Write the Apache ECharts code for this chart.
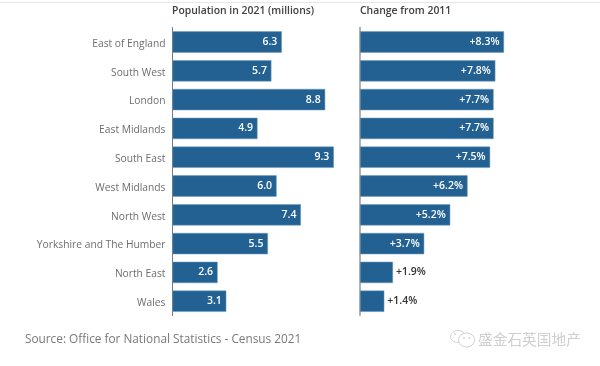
<!DOCTYPE html>
<html lang="en">
<head>
    <meta charset="UTF-8">
    <title>Population by region</title>
    <script src="https://cdn.jsdelivr.net/npm/echarts@6/dist/echarts.min.js"></script>
    <style>
        *{
            margin:0;
            padding:0;
            overflow: hidden;
        }
        #main{
            width:600px;
            height:366px;
            background-color:#fff;
        }
    </style>
</head>
<body>
    <div id="main"></div>
    <script>
        var regions=["East of England","South West","London","East Midlands","South East","West Midlands","North West","Yorkshire and The Humber","North East","Wales"]
        var population=[6.3,5.7,8.8,4.9,9.3,6.0,7.4,5.5,2.6,3.1]
        var change=[8.3,7.8,7.7,7.7,7.5,6.2,5.2,3.7,1.9,1.4]

        var font='"Open Sans"'
        var barColor='#236192'
        var barEdge='#6f9bbd'

        var myChart=echarts.init(document.getElementById('main'))

        //the two smallest changes do not fit inside the bar, label goes outside
        var changeData=change.map(function(v){
            var small=v<2
            return {
                value:v,
                label:{
                    position:small?'right':'insideRight',
                    color:small?'#333333':'#ffffff',
                    distance:small?3:4.5
                }
            }
        })

        var option={
            animation:false,
            title:[
                {text:"Population in 2021 (millions)",left:167,top:1.5,textStyle:{fontFamily:font,fontSize:10.4,fontWeight:600,color:'#414042'}},
                {text:"Change from 2011",left:355,top:1.5,textStyle:{fontFamily:font,fontSize:10.4,fontWeight:600,color:'#414042'}},
                {text:"Source: Office for National Statistics - Census 2021",left:20,top:329,textStyle:{fontFamily:font,fontSize:11.8,fontWeight:400,color:'#77787b'}},
                {text:"盛金石英国地产",left:473,top:327.5,textStyle:{fontFamily:'"Noto Sans CJK SC"',fontSize:14.7,fontWeight:400,color:'#cfcfcf'}}
            ],
            grid:[
                {left:172.5,top:27.6,width:173.5,height:288},
                {left:360,top:27.6,width:173.5,height:288}
            ],
            xAxis:[
                {gridIndex:0,type:'value',min:0,max:10,show:false},
                {gridIndex:1,type:'value',min:0,max:10,show:false}
            ],
            yAxis:[
                {
                    gridIndex:0,type:'category',data:regions,inverse:true,
                    axisLine:{lineStyle:{color:'#77787b',width:1}},
                    axisTick:{show:false},
                    //top aligned with a short line box drops the text about 2px under the bar centre
                    axisLabel:{fontFamily:font,fontSize:10.25,color:'#6d6e71',margin:7,verticalAlign:'top',lineHeight:3.6}
                },
                {
                    gridIndex:1,type:'category',data:regions,inverse:true,
                    axisLine:{lineStyle:{color:'#999999',width:1.5}},
                    axisTick:{show:false},
                    axisLabel:{show:false}
                }
            ],
            series:[
                {
                    type:'bar',xAxisIndex:0,yAxisIndex:0,data:population,barWidth:21.3,
                    itemStyle:{color:barColor,borderColor:barEdge,borderWidth:0.5},
                    label:{
                        show:true,position:'insideRight',distance:4.5,
                        fontFamily:font,fontSize:10.5,fontWeight:600,color:'#ffffff',
                        formatter:function(p){return p.value.toFixed(1)}
                    }
                },
                {
                    type:'bar',xAxisIndex:1,yAxisIndex:1,data:changeData,barWidth:21.3,
                    itemStyle:{color:barColor,borderColor:barEdge,borderWidth:0.5},
                    label:{
                        show:true,
                        fontFamily:font,fontSize:10.5,fontWeight:600,
                        formatter:function(p){return '+'+p.value.toFixed(1)+'%'}
                    }
                }
            ],
            graphic:[
                //thin rule at the very top
                {type:'line',shape:{x1:0,y1:2.5,x2:600,y2:2.5},style:{stroke:'#e6e6e6',lineWidth:1}},
                //wechat logo, just two outlined bubbles
                {type:'ellipse',shape:{cx:458,cy:336.5,rx:7.5,ry:6},style:{fill:'#fff',stroke:'#cfcfcf',lineWidth:1}},
                {type:'ellipse',shape:{cx:466.5,cy:340,rx:8,ry:7},style:{fill:'#fff',stroke:'#cfcfcf',lineWidth:1}},
                {type:'circle',shape:{cx:464,cy:338,r:0.9},style:{fill:'#cfcfcf'}},
                {type:'circle',shape:{cx:469.5,cy:338,r:0.9},style:{fill:'#cfcfcf'}},
                {type:'circle',shape:{cx:455,cy:334,r:0.9},style:{fill:'#cfcfcf'}}
            ]
        }
        myChart.setOption(option)
    </script>
</body>
</html>
